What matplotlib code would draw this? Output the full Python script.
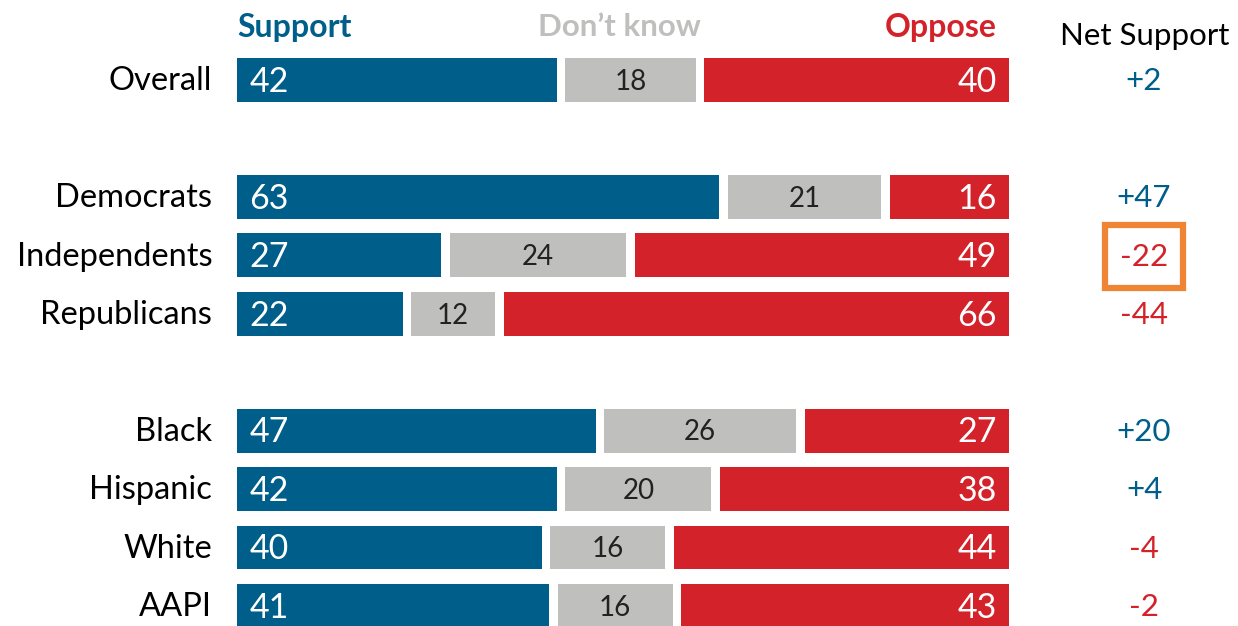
import matplotlib.pyplot as plt
from matplotlib.patches import Rectangle

groups = ["Overall", "Democrats", "Independents", "Republicans",
          "Black", "Hispanic", "White", "AAPI"]
rows = [0, 2, 3, 4, 6, 7, 8, 9]
support = [42, 63, 27, 22, 47, 42, 40, 41]
dont_know = [18, 21, 24, 12, 26, 20, 16, 16]
oppose = [40, 16, 49, 66, 27, 38, 44, 43]
net = [2, 47, -22, -44, 20, 4, -4, -2]

BLUE = "#005e8a"
RED = "#d32229"
GRAY = "#bfbfbd"
ORANGE = "#ee8434"

plt.rcParams["font.family"] = ["Lato", "DejaVu Sans"]

W, H = 1238, 626
fig = plt.figure(figsize=(W / 100, H / 100), dpi=100)
# bar area spans x pixels 237..1009, rows 58.44 px apart starting at y=80
left_px, right_px = 237, 1009
ax = fig.add_axes([left_px / W, 0, (right_px - left_px) / W, 1])
row_h = (606 - 80) / 9
ax.set_xlim(0, 100)
ax.set_ylim(9 + (H - 606) / row_h, -80 / row_h)
ax.axis("off")

gap = 0.55
bh = 0.75
for r, s, d, o in zip(rows, support, dont_know, oppose):
    ax.barh(r, s - gap, left=0, height=bh, color=BLUE)
    ax.barh(r, d - 2 * gap, left=s + gap, height=bh, color=GRAY)
    ax.barh(r, o - gap, left=s + d + gap, height=bh, color=RED)
    ax.text(1.6, r + 0.03, str(s), color="white", fontsize=24.5,
            ha="left", va="center")
    ax.text(s + d / 2, r + 0.03, str(d), color="#222222", fontsize=20,
            ha="center", va="center")
    ax.text(98.4, r + 0.03, str(o), color="white", fontsize=24.5,
            ha="right", va="center")

for r, g in zip(rows, groups):
    ax.text(-3.2, r + 0.02, g, fontsize=23.5, ha="right", va="center",
            clip_on=False)

net_x = 117.5
for r, n in zip(rows, net):
    ax.text(net_x, r + 0.02, f"{n:+d}", color=BLUE if n > 0 else RED,
            fontsize=22.5, ha="center", va="center", clip_on=False)

# highlight box around Independents
ax.add_patch(Rectangle((net_x - 5.1, 3 - 0.52), 10.2, 1.08, fill=False,
                       edgecolor=ORANGE, linewidth=4.5, clip_on=False))

hy = -0.9
ax.text(0, hy, "Support", color=BLUE, fontsize=23, fontweight="bold",
        ha="left", va="center")
ax.text(49.6, hy, "Don\u2019t know", color=GRAY, fontsize=22.5,
        fontweight="bold", ha="center", va="center")
ax.text(98.4, hy, "Oppose", color=RED, fontsize=23, fontweight="bold",
        ha="right", va="center")
ax.text(117.6, -0.76, "Net Support", color="black", fontsize=22.5,
        ha="center", va="center", clip_on=False)

fig.savefig("out.png", dpi=100)
